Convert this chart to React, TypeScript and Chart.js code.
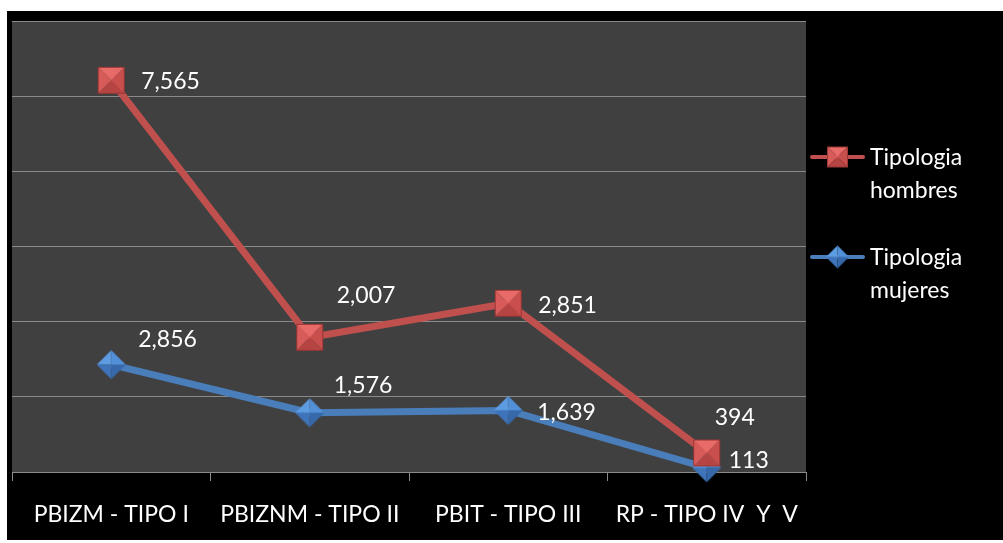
import React, { useEffect, useRef } from "react";
import { Chart, registerables } from "chart.js";

Chart.register(...registerables);

const categories = ["PBIZM - TIPO I", "PBIZNM - TIPO II", "PBIT - TIPO III", "RP - TIPO IV  Y  V"];
const hombres = [7565, 2007, 2851, 394];
const mujeres = [2856, 1576, 1639, 113];
const seriesNames = [["Tipologia", "hombres"], ["Tipologia", "mujeres"]];
const yTicks = { min: 0, max: 12000, step: 2000 };

// label offsets (style config): [dx, dy] from point, text left aligned
const hombresLabelOffsets = [[30, 1], [27, -42], [30, 2], [8, -35]];
const mujeresLabelOffsets = [[27, -25], [24, -27], [29, 2], [22, -7]];

const RED = "#C0504D";
const BLUE = "#4A7EBB";
const FONT = "Lato, 'Open Sans', sans-serif";
const FS = 23;

function makeSquare(size: number) {
  const c = document.createElement("canvas");
  c.width = size + 2;
  c.height = size + 2;
  const g = c.getContext("2d")!;
  const o = 1, s = size, cx = o + s / 2, cy = o + s / 2;
  const facet = (pts: number[][], col: string) => {
    g.beginPath();
    g.moveTo(pts[0][0], pts[0][1]);
    for (let i = 1; i < pts.length; i++) g.lineTo(pts[i][0], pts[i][1]);
    g.closePath();
    g.fillStyle = col;
    g.fill();
  };
  const tl = [o, o], tr = [o + s, o], br = [o + s, o + s], bl = [o, o + s], c0 = [cx, cy];
  facet([tl, tr, c0], "#E86B68");
  facet([tl, c0, bl], "#D75C59");
  facet([tr, br, c0], "#C94F4C");
  facet([bl, c0, br], "#B54442");
  g.strokeStyle = "#9A3634";
  g.lineWidth = 1;
  g.strokeRect(o + 0.5, o + 0.5, s - 1, s - 1);
  return c;
}

function makeDiamond(size: number) {
  const c = document.createElement("canvas");
  c.width = size + 2;
  c.height = size + 2;
  const g = c.getContext("2d")!;
  const o = 1, s = size, cx = o + s / 2, cy = o + s / 2;
  const top = [cx, o], right = [o + s, cy], bottom = [cx, o + s], left = [o, cy], c0 = [cx, cy];
  const facet = (pts: number[][], col: string) => {
    g.beginPath();
    g.moveTo(pts[0][0], pts[0][1]);
    for (let i = 1; i < pts.length; i++) g.lineTo(pts[i][0], pts[i][1]);
    g.closePath();
    g.fillStyle = col;
    g.fill();
  };
  facet([top, c0, left], "#5E9CE2");
  facet([top, right, c0], "#5290D8");
  facet([left, c0, bottom], "#3F74BA");
  facet([c0, right, bottom], "#3668AA");
  return c;
}

const zeroPad = (scale: any) => {
  scale.paddingLeft = 0;
  scale.paddingRight = 0;
  scale.paddingTop = 0;
  scale.paddingBottom = 0;
};

export default function App() {
  const ref = useRef<HTMLCanvasElement>(null);

  useEffect(() => {
    const canvas = ref.current!;
    const sq = makeSquare(27);
    const dm = makeDiamond(29);
    const sqSmall = makeSquare(21);
    const dmSmall = makeDiamond(23);
    const hombresStacked = hombres.map((v, i) => v + mujeres[i]);

    const bgPlugin = {
      id: "bg",
      beforeDraw(chart: any) {
        const { ctx, chartArea: a } = chart;
        ctx.save();
        ctx.fillStyle = "#000000";
        ctx.fillRect(0, 0, chart.width, chart.height);
        ctx.fillStyle = "#404040";
        ctx.fillRect(a.left, a.top, a.right - a.left, a.bottom - a.top);
        ctx.restore();
      },
    };

    const labelPlugin = {
      id: "labels",
      afterDatasetsDraw(chart: any) {
        const { ctx } = chart;
        ctx.save();
        ctx.font = `${FS}px ${FONT}`;
        ctx.fillStyle = "#FFFFFF";
        ctx.textAlign = "left";
        ctx.textBaseline = "middle";
        const sets = [
          { idx: 0, vals: hombres, offs: hombresLabelOffsets },
          { idx: 1, vals: mujeres, offs: mujeresLabelOffsets },
        ];
        sets.forEach((s) => {
          const meta = chart.getDatasetMeta(s.idx);
          meta.data.forEach((pt: any, i: number) => {
            const t = s.vals[i].toLocaleString("en-US");
            ctx.fillText(t, pt.x + s.offs[i][0], pt.y + s.offs[i][1]);
          });
        });
        ctx.restore();
      },
    };

    const legendPlugin = {
      id: "customLegend",
      afterDraw(chart: any) {
        const { ctx } = chart;
        const items = [
          { color: RED, img: sqSmall, y: 146, lines: seriesNames[0] },
          { color: BLUE, img: dmSmall, y: 246, lines: seriesNames[1] },
        ];
        ctx.save();
        items.forEach((it) => {
          ctx.strokeStyle = it.color;
          ctx.lineWidth = 4;
          ctx.lineCap = "round";
          ctx.beginPath();
          ctx.moveTo(805, it.y);
          ctx.lineTo(856, it.y);
          ctx.stroke();
          ctx.drawImage(it.img, 830.5 - it.img.width / 2, it.y - it.img.height / 2);
          ctx.font = `${FS}px ${FONT}`;
          ctx.fillStyle = "#FFFFFF";
          ctx.textAlign = "left";
          ctx.textBaseline = "middle";
          ctx.fillText(it.lines[0], 863, it.y + 1);
          ctx.fillText(it.lines[1], 863, it.y + 34);
        });
        ctx.restore();
      },
    };

    const chart = new Chart(canvas, {
      type: "line",
      data: {
        labels: categories,
        datasets: [
          {
            label: "Tipologia hombres",
            data: hombresStacked,
            borderColor: RED,
            backgroundColor: RED,
            borderWidth: 7,
            pointStyle: sq as any,
            pointRadius: 14,
            pointHoverRadius: 14,
            tension: 0,
            clip: false as any,
            order: 0,
          },
          {
            label: "Tipologia mujeres",
            data: mujeres,
            borderColor: BLUE,
            backgroundColor: BLUE,
            borderWidth: 7,
            pointStyle: dm as any,
            pointRadius: 15,
            pointHoverRadius: 15,
            tension: 0,
            clip: false as any,
            order: 1,
          },
        ],
      },
      options: {
        animation: false,
        responsive: false,
        events: [],
        layout: { autoPadding: false, padding: { top: 10, right: 197, left: 0, bottom: 0 } },
        plugins: { legend: { display: false }, tooltip: { enabled: false } },
        scales: {
          x: {
            type: "category",
            offset: true,
            grid: {
              offset: true,
              drawOnChartArea: false,
              drawTicks: true,
              tickLength: 9,
              color: "#8A8A8A",
              lineWidth: 1,
            },
            border: { display: true, color: "#8A8A8A", width: 1 },
            ticks: {
              color: "#FFFFFF",
              font: { family: FONT, size: FS },
              padding: 20,
              maxRotation: 0,
              autoSkip: false,
            },
            afterFit(scale: any) {
              scale.height = 68;
              zeroPad(scale);
            },
          },
          y: {
            min: yTicks.min,
            max: yTicks.max,
            ticks: { stepSize: yTicks.step, display: false },
            grid: { color: "#8A8A8A", lineWidth: 1, drawTicks: false },
            border: { display: false },
            afterFit(scale: any) {
              scale.width = 5;
              zeroPad(scale);
            },
          },
        },
      },
      plugins: [bgPlugin, labelPlugin, legendPlugin],
    });
    return () => chart.destroy();
  }, []);

  return (
    <div style={{ position: "absolute", left: 7, top: 11, width: 996, height: 529 }}>
      <canvas ref={ref} width={996} height={529} style={{ display: "block", width: 996, height: 529 }} />
    </div>
  );
}
